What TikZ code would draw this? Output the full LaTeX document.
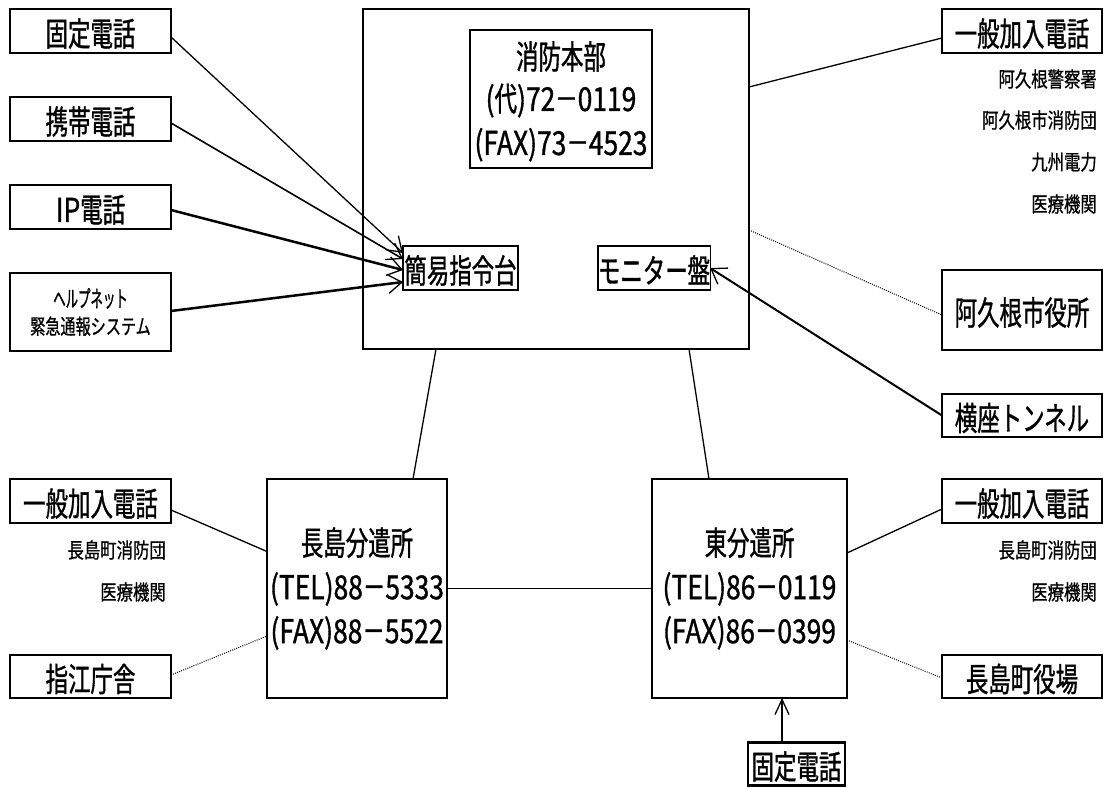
\documentclass[tikz,border=0pt]{standalone}
\usepackage{fontspec}
\setmainfont{Noto Sans CJK JP}
\newfontfamily\bigjp[FakeStretch=0.68,FakeBold=1]{Noto Sans CJK JP}
\newfontfamily\smljp[FakeStretch=0.78,FakeBold=0.8]{Noto Sans CJK JP}
\newfontfamily\hlpjp[FakeStretch=0.72,FakeBold=0.8]{Noto Sans CJK JP}
\newfontfamily\nrwjp[FakeStretch=0.54,FakeBold=0.8]{Noto Sans CJK JP}
\newfontfamily\numjp[FakeStretch=0.8,FakeBold=1]{Noto Sans CJK JP}
\newcommand\numtxt[1]{{\numjp #1}}
\usetikzlibrary{arrows.meta}
\begin{document}
\begin{tikzpicture}[x=1pt,y=-1pt,
  bx/.style={draw, line width=2.5pt, inner sep=0pt, outer sep=0pt,
    minimum width=161pt, minimum height=44pt,
    font=\bigjp\fontsize{33}{44}\selectfont, align=center},
  lowtext/.style={text height=30pt, text depth=0pt},
  thinbox/.style={draw, line width=1.2pt, inner sep=0pt, outer sep=0pt,
    font=\bigjp\fontsize{33}{44}\selectfont, align=center},
  bigtxt/.style={anchor=base, inner sep=0pt, font=\bigjp\fontsize{33}{44}\selectfont},
  lbl/.style={anchor=east, inner sep=0pt, font=\smljp\fontsize{21}{24}\selectfont},
  conn/.style={line width=1.3pt},
  dotline/.style={line width=1pt, dash pattern=on 1pt off 1.2pt},
  arr/.style={-{Straight Barb[length=14pt,width=19pt,line width=1.3pt]}}
]
\useasboundingbox (0,0) rectangle (1104,789);

% main HQ
\node[bx, minimum width=386pt, minimum height=340pt] (hq) at (556,179) {};
\node[thinbox, minimum width=182pt, minimum height=138pt] (hqt) at (561,99) {};
\node[bigtxt] (hq1) at (561,69) {消防本部};
\node[bigtxt] (hq2) at (561,111) {\numtxt{(}代\numtxt{)72}－\numtxt{0119}};
\node[bigtxt] (hq3) at (561,155) {\numtxt{(FAX)73}－\numtxt{4523}};
\node[thinbox, lowtext, minimum width=115pt, minimum height=44pt] (kan) at (460.5,268) {簡易指令台};
\node[thinbox, lowtext, minimum width=106pt, minimum height=44pt] (mon) at (654,268) {モニター盤};

% left inputs
\node[bx, lowtext] (k1) at (90.5,31) {固定電話};
\node[bx, lowtext] (k2) at (90.5,119) {携帯電話};
\node[bx, lowtext] (k3) at (90.5,207) {\numtxt{IP}電話};
\node[bx, minimum height=78pt, font=\hlpjp\fontsize{21}{27}\selectfont] (k4) at (90.5,312)
  {{\nrwjp\fontsize{23}{27}\selectfont ヘルプネット}\\緊急通報システム};

% right top
\node[bx, lowtext, minimum width=160pt] (r1) at (1022,31) {一般加入電話};
\node[lbl] (r1a) at (1097,79) {阿久根警察署};
\node[lbl] (r1b) at (1097,120) {阿久根市消防団};
\node[lbl] (r1c) at (1097,162) {九州電力};
\node[lbl] (r1d) at (1097,204) {医療機関};
\node[bx, lowtext, minimum width=160pt, minimum height=80pt] (r2) at (1022,310) {阿久根市役所};
\node[bx, lowtext, minimum width=160pt, minimum height=43pt] (r3) at (1022,415.5) {横座トンネル};

% bottom left
\node[bx, lowtext] (bl1) at (90.5,501) {一般加入電話};
\node[lbl] (bl1a) at (166,550) {長島町消防団};
\node[lbl] (bl1b) at (166,592) {医療機関};
\node[bx, lowtext, minimum height=43pt] (bl2) at (90.5,676.5) {指江庁舎};

% branch offices
\node[bx, minimum width=180pt, minimum height=219pt] (nb) at (357,588.5)
  {長島分遣所\\\numtxt{(TEL)88}－\numtxt{5333}\\\numtxt{(FAX)88}－\numtxt{5522}};
\node[bx, minimum width=195pt, minimum height=219pt] (eb) at (749.5,588.5)
  {東分遣所\\\numtxt{(TEL)86}－\numtxt{0119}\\\numtxt{(FAX)86}－\numtxt{0399}};

% bottom right
\node[bx, lowtext, minimum width=160pt] (br1) at (1022,501) {一般加入電話};
\node[lbl] (br1a) at (1097,550) {長島町消防団};
\node[lbl] (br1b) at (1097,592) {医療機関};
\node[bx, lowtext, minimum width=160pt, minimum height=43pt] (br2) at (1022,676.5) {長島町役場};
\node[bx, lowtext, minimum width=97pt, minimum height=43pt] (bf) at (796.5,764) {固定電話};

% connectors
\draw[line width=1.3pt, arr] ([yshift=-6pt]k1.east) -- ([yshift=15pt]kan.west);
\draw[line width=1.6pt, arr] ([yshift=-4pt]k2.east) -- ([yshift=9pt]kan.west);
\draw[line width=2.5pt, arr] ([yshift=-3pt]k3.east) -- ([yshift=-2pt]kan.west);
\draw[line width=2.5pt, arr] ([yshift=1pt]k4.east) -- ([yshift=-14pt]kan.west);

\draw[conn] ([yshift=92pt]hq.east) -- ([yshift=-7pt]r1.west);
\draw[dotline] ([yshift=-51pt]hq.east) -- ([yshift=-5pt]r2.west);
\draw[line width=2pt, arr] (r3.west) -- (mon.east);

\draw[conn] ([xshift=-120pt]hq.south) -- ([xshift=56pt]nb.north);
\draw[conn] ([xshift=133pt]hq.south) -- ([xshift=-40.5pt]eb.north);
\draw[conn] (nb.east) -- (eb.west);
\draw[conn] ([yshift=-9pt]bl1.east) -- ([yshift=37pt]nb.west);
\draw[dotline] ([yshift=1.5pt]bl2.east) -- ([yshift=-47.5pt]nb.west);
\draw[conn] ([yshift=35.5pt]eb.east) -- ([yshift=-8pt]br1.west);
\draw[dotline] ([yshift=-51.5pt]eb.east) -- ([yshift=-1.5pt]br2.west);
\draw[line width=1.5pt, -{Straight Barb[length=15pt,width=14pt,line width=1.3pt]}]
  ([xshift=-14.5pt]bf.north) -- ([xshift=32.5pt]eb.south);
\end{tikzpicture}
\end{document}
